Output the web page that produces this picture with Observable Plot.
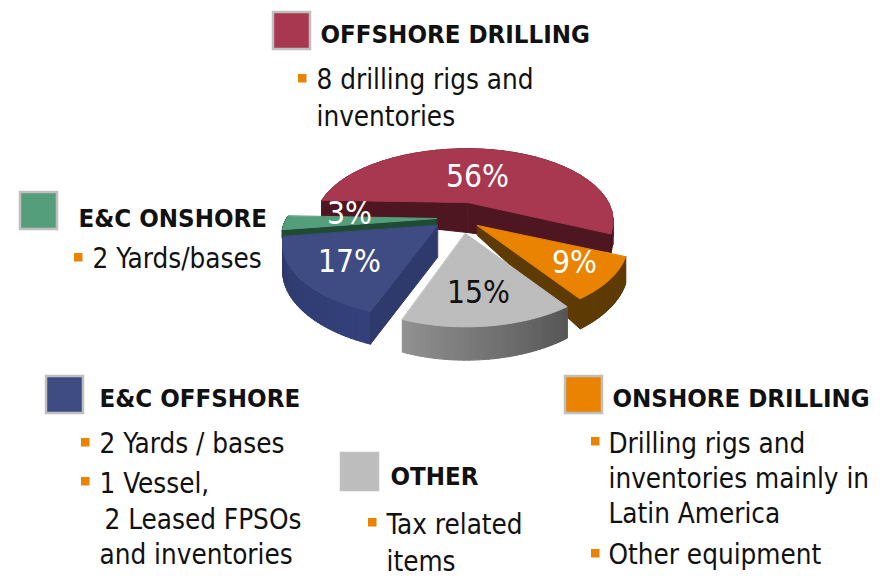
<!DOCTYPE html>
<html><head><meta charset="utf-8">
<style>html,body{margin:0;padding:0;background:#fff}svg{display:block}</style>
<script src="https://cdn.jsdelivr.net/npm/d3@7"></script>
<script src="https://cdn.jsdelivr.net/npm/@observablehq/plot@0.6"></script>
</head><body><script>
// DATA
const categories = ["OFFSHORE DRILLING","ONSHORE DRILLING","OTHER","E&C OFFSHORE","E&C ONSHORE"];
const values = [56,9,15,17,3];
const offshoreDrilling = ["8 drilling rigs and","inventories"];
const onshoreDrilling = ["Drilling rigs and","inventories mainly in","Latin America","Other equipment"];
const other = ["Tax related","items"];
const ecOffshore = ["2 Yards / bases","1 Vessel,","2 Leased FPSOs","and inventories"];
const ecOnshore = ["2 Yards/bases"];

// STYLE + LAYOUT
const topCol = ["#A8384F","#E98300","#BDBDBD","#3F4C84","#559E7C"];
const faceCol = ["#4E1620","#5E3A05","#777777","#2E3A6C","#1F4A34"];
const rimCol = [["#4E1620","#4E1620"],["#5E3A05","#5E3A05"],["#929292","#565656"],["#33407A","#2E3A6C"],["#1F4A34","#1F4A34"]];
const geom = [
 {ax:467,ay:202,rim:17,apex:30,faces:["s","e"],e:.94,w:.98,n:.96},
 {ax:477,ay:225,rim:24,apex:10,faces:["e"],e:.97,w:1,n:1},
 {ax:465,ay:233,rim:25,apex:0,faces:[],e:.96,w:.94,n:1},
 {ax:437,ay:225,rim:25,apex:32,faces:["s"],e:1,w:1,n:1},
 {ax:436,ay:218,rim:8,apex:8,faces:["s"],e:1,w:1,n:1}
];
const RX=150,C=70,P=0.25;
const rad=d=>d*Math.PI/180;
const arcs=d3.pie().sort(null).startAngle(rad(272)).endAngle(rad(632))(values);
function proj(g,t){const X=Math.sin(t),Y=Math.cos(t),w=1+Y*P;
  return [g.ax+RX*X*(X>0?g.e:g.w)/w,g.ay-C*Y*(Y>0?g.n:1)/w,1/w];}
const polys=[];let pid=0;
function poly(pts,fill){const id=pid++;pts.forEach(p=>polys.push({id,x:p[0],y:p[1],fill}));}
[0,4,3,1,2].forEach(i=>{
  const g=geom[i],a=arcs[i],N=36,dt=(a.endAngle-a.startAngle)/N;
  for(let k=0;k<N;k++){
    const t0=a.startAngle+k*dt,t1=t0+dt*1.05;
    const p0=proj(g,t0),p1=proj(g,t1);
    const col=d3.interpolateRgb(rimCol[i][0],rimCol[i][1])(i===2?1-k/N:k/N);
    poly([[p0[0],p0[1]],[p1[0],p1[1]],[p1[0],p1[1]+g.rim*p1[2]],[p0[0],p0[1]+g.rim*p0[2]]],col);
  }
  g.faces.forEach(f=>{
    const p=proj(g,f==="s"?a.startAngle:a.endAngle);
    poly([[g.ax,g.ay],[p[0],p[1]],[p[0],p[1]+g.rim*p[2]],[g.ax,g.ay+g.apex]],faceCol[i]);
  });
  const top=[[g.ax,g.ay]];
  for(let k=0;k<=N;k++){const p=proj(g,a.startAngle+k*dt);top.push([p[0],p[1]]);}
  poly(top,topCol[i]);
});

const pctPos=[[477,176,"#fff"],[574,262,"#fff"],[478,292,"#111"],[349,261,"#fff"],[349,213,"#fff"]];
const pct=values.map((v,i)=>({t:v+"%",x:pctPos[i][0],y:pctPos[i][1],c:pctPos[i][2]}));

const swatchPos=[[273,12],[565,376],[341,453],[46,376],[20,192]];
const swatches=swatchPos.map((p,i)=>({x1:p[0],y1:p[1],x2:p[0]+37,y2:p[1]+37,c:topCol[i]}));
const headPos=[[320,42],[612,406],[390,484],[99,406],[78,226]];
const heads=headPos.map((p,i)=>({t:categories[i],x:p[0],y:p[1]}));
const lines=[
 {t:offshoreDrilling[0],x:316,y:88},{t:offshoreDrilling[1],x:316,y:125},
 {t:onshoreDrilling[0],x:608,y:452},{t:onshoreDrilling[1],x:608,y:487},{t:onshoreDrilling[2],x:608,y:522},{t:onshoreDrilling[3],x:608,y:563},
 {t:other[0],x:386,y:533},{t:other[1],x:386,y:570},
 {t:ecOffshore[0],x:99,y:452},{t:ecOffshore[1],x:99,y:492},{t:ecOffshore[2],x:104,y:528},{t:ecOffshore[3],x:99,y:563},
 {t:ecOnshore[0],x:92,y:267}];
const bulletPos=[[298,74],[591,437],[591,549],[368,518],[81,438],[81,477],[74,253]];
const bullets=bulletPos.map(p=>({x1:p[0],y1:p[1],x2:p[0]+8.5,y2:p[1]+8.5}));

const FONT="'DejaVu Sans Condensed','Lato'";
const chart=Plot.plot({
  width:887,height:577,margin:0,
  x:{domain:[0,887],range:[0,887],axis:null},
  y:{domain:[0,577],range:[0,577],axis:null},
  color:{type:"identity"},
  style:{background:"#fff"},
  marks:[
    Plot.line(polys,{x:"x",y:"y",z:"id",fill:"fill",stroke:"fill",strokeWidth:1,curve:"linear-closed"}),
    Plot.rect(swatches,{x1:"x1",x2:"x2",y1:"y1",y2:"y2",fill:"c",stroke:"#BFBFBF",strokeWidth:2.5}),
    Plot.rect(bullets,{x1:"x1",x2:"x2",y1:"y1",y2:"y2",fill:"#E98300"}),
    Plot.text(heads,{x:"x",y:"y",text:"t",textAnchor:"start",lineAnchor:"bottom",fontFamily:FONT,fontWeight:"bold",fontSize:25.6,fill:"#111"}),
    Plot.text(lines,{x:"x",y:"y",text:"t",textAnchor:"start",lineAnchor:"bottom",fontFamily:FONT,fontSize:27.6,fill:"#111"}),
    Plot.text(pct,{x:"x",y:"y",text:"t",fontFamily:FONT,fontSize:31.5,fill:"c"})
  ]
});
document.body.appendChild(chart);
</script></body></html>
